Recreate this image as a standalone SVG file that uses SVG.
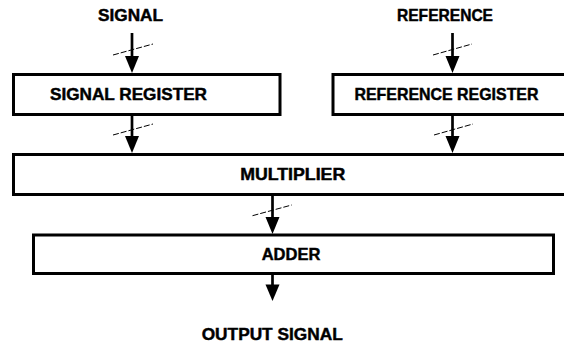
<svg xmlns="http://www.w3.org/2000/svg" width="564" height="349" viewBox="0 0 564 349">
  <style>
    .box { fill: #fff; stroke: #000; stroke-width: 3; }
    .lbl { font-family: "Liberation Sans", Arial, sans-serif; font-weight: bold; font-size: 16.5px; fill: #000; stroke: #000; stroke-width: 0.45; text-anchor: middle; }
    .wire { stroke: #000; stroke-width: 2.7; fill: none; }
    .head { fill: #000; stroke: none; }
    .bus { stroke: #000; stroke-width: 1; stroke-dasharray: 6 2; fill: none; }
  </style>
  <rect width="564" height="349" fill="#fff"/>

  <!-- input labels -->
  <g id="signal-in">
    <text class="lbl" x="130.5" y="21" textLength="65" lengthAdjust="spacingAndGlyphs">SIGNAL</text>
  </g>
  <g id="reference-in">
    <text class="lbl" x="445" y="21" textLength="96" lengthAdjust="spacingAndGlyphs">REFERENCE</text>
  </g>

  <g id="signal-register">
    <rect class="box" x="13.5" y="74.5" width="266.5" height="40"/>
    <text class="lbl" x="128.5" y="99.5" textLength="157" lengthAdjust="spacingAndGlyphs">SIGNAL REGISTER</text>
  </g>
  <g id="reference-register">
    <rect class="box" x="333" y="74.5" width="240" height="40"/>
    <text class="lbl" x="446.5" y="99.5" textLength="184" lengthAdjust="spacingAndGlyphs">REFERENCE REGISTER</text>
  </g>
  <g id="multiplier">
    <rect class="box" x="13.5" y="154.5" width="560" height="40"/>
    <text class="lbl" x="292.7" y="179.5" textLength="105" lengthAdjust="spacingAndGlyphs">MULTIPLIER</text>
  </g>
  <g id="adder">
    <rect class="box" x="33.5" y="235" width="520" height="38.5"/>
    <text class="lbl" x="291" y="259.5" textLength="58.6" lengthAdjust="spacingAndGlyphs">ADDER</text>
  </g>
  <g id="output-signal">
    <text class="lbl" x="272.2" y="340" textLength="141" lengthAdjust="spacingAndGlyphs">OUTPUT SIGNAL</text>
  </g>

  <g id="connectors">
    <!-- SIGNAL -> SIGNAL REGISTER -->
    <line class="wire" x1="132" y1="33" x2="132" y2="58"/>
    <polygon class="head" points="125,56 139,56 132,73"/>
    <line class="bus" x1="113" y1="55" x2="153" y2="44"/>

    <!-- SIGNAL REGISTER -> MULTIPLIER -->
    <line class="wire" x1="132" y1="116" x2="132" y2="138"/>
    <polygon class="head" points="125,136 139,136 132,153"/>
    <line class="bus" x1="113" y1="135" x2="153" y2="124"/>

    <!-- REFERENCE -> REFERENCE REGISTER -->
    <line class="wire" x1="452.5" y1="33" x2="452.5" y2="58"/>
    <polygon class="head" points="445.5,56 459.5,56 452.5,73"/>
    <line class="bus" x1="433" y1="55" x2="472" y2="44"/>

    <!-- REFERENCE REGISTER -> MULTIPLIER -->
    <line class="wire" x1="452.5" y1="116" x2="452.5" y2="138"/>
    <polygon class="head" points="445.5,136 459.5,136 452.5,153"/>
    <line class="bus" x1="434" y1="135" x2="473" y2="124"/>

    <!-- MULTIPLIER -> ADDER -->
    <line class="wire" x1="272.5" y1="196" x2="272.5" y2="219"/>
    <polygon class="head" points="265.5,217 279.5,217 272.5,234"/>
    <line class="bus" x1="252.5" y1="215.7" x2="291.7" y2="205"/>

    <!-- ADDER -> OUTPUT SIGNAL -->
    <line class="wire" x1="272.5" y1="275" x2="272.5" y2="287"/>
    <polygon class="head" points="265.5,284.5 279.5,284.5 272.5,301"/>
  </g>
</svg>
